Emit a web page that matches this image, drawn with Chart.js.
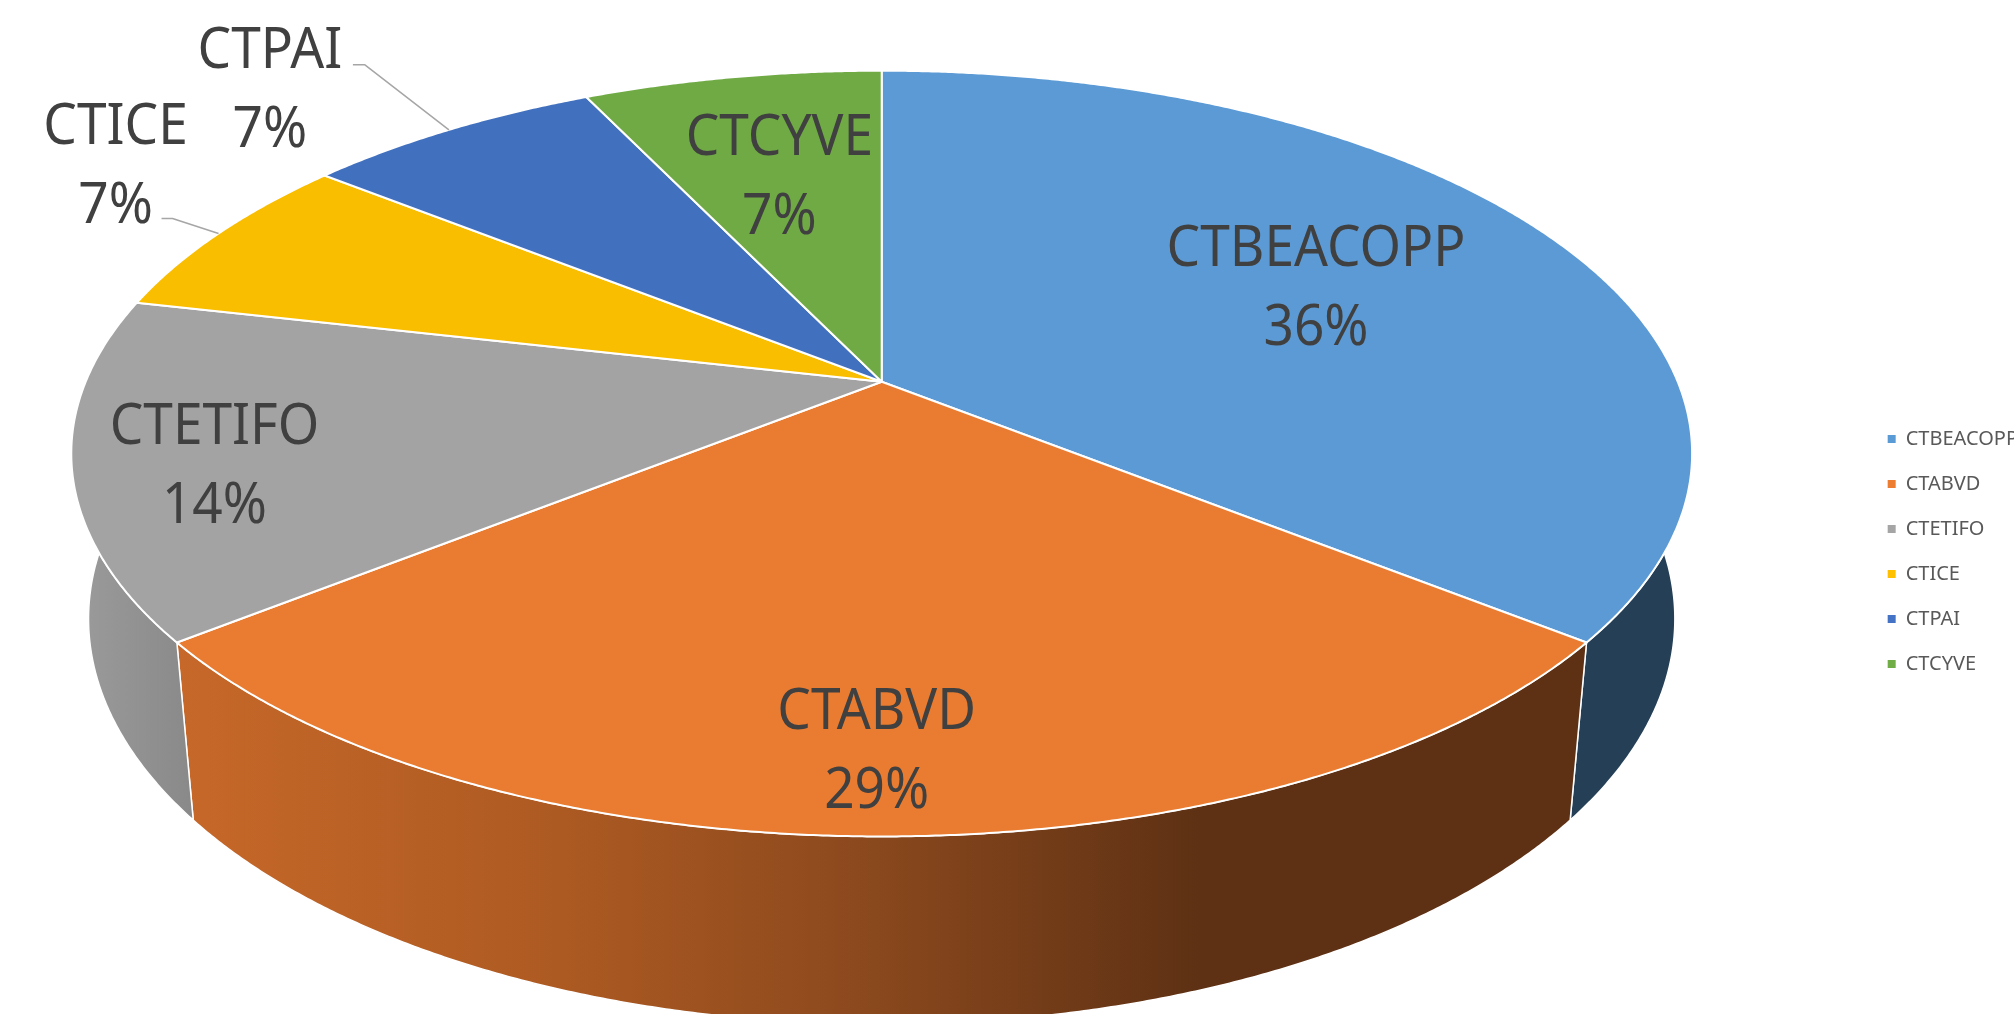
<!DOCTYPE html>
<html>
<head>
<meta charset="utf-8">
<script src="https://cdn.jsdelivr.net/npm/chart.js@4.4.0/dist/chart.umd.min.js"></script>
<style>
	html, body { margin: 0; padding: 0; background: #fff; overflow: hidden; }
	#wrap { position: relative; width: 2028px; height: 1014px; }
</style>
</head>
<body>
<div id="wrap"><canvas id="myChart"></canvas></div>
<script>
// data
const categories = ['CTBEACOPP', 'CTABVD', 'CTETIFO', 'CTICE', 'CTPAI', 'CTCYVE']
const counts = [5, 4, 2, 1, 1, 1]

// colours
const legendColors = ['#5B9BD5', '#ED7D31', '#A5A5A5', '#FFC000', '#4472C4', '#70AD47']
const topColors = ['#5B9AD5', '#E97C30', '#A3A3A3', '#FABE00', '#4170BF', '#6FAA45']

// how the tilted disc is projected on screen
const CX = 881.7
const CY = 381.7
const RX = 796
const RY = 369.4
const TILT = 0.1877 // perspective along the depth of the disc
const PERSP = 0.021 // perspective along the thickness
const DEPTH = 166

// where each data label sits (r = fraction of radius on the slice mid angle)
const labelLayout = [
	{ r: 0.637 },
	{ r: 0.835, dx: -5 },
	{ r: 0.83, dy: 10 },
	{ dx: -103, dy: -71, elbow: [-46, -15], tail: -11 },
	{ dx: -179, dy: -43, elbow: [-84, -65], tail: -12 },
	{ r: 0.646 }
]
const LABEL_SHIFT = 5
const LINE_GAP = 79

function project(theta, r, d) {
	const u = r * Math.cos(theta)
	const v = r * Math.sin(theta)
	const w = 1 - TILT * v + PERSP * d
	return { x: CX + RX * u / w, y: CY + (RY * v + DEPTH * d) / w }
}

function arcPoints(a0, a1, d) {
	const pts = []
	const n = Math.max(2, Math.ceil(Math.abs(a1 - a0) / 0.005))
	for (let i = 0; i <= n; i++) {
		pts.push(project(a0 + (a1 - a0) * i / n, 1, d))
	}
	return pts
}

function sideFill(ctx, i) {
	if (i === 1) {
		const g = ctx.createLinearGradient(180, 0, 1200, 0)
		g.addColorStop(0, '#C66829')
		g.addColorStop(0.37, '#AD5A22')
		g.addColorStop(0.68, '#8A481D')
		g.addColorStop(1, '#5E3114')
		return g
	}
	if (i === 2) {
		const g = ctx.createLinearGradient(70, 0, 200, 0)
		g.addColorStop(0, '#9C9C9C')
		g.addColorStop(1, '#888888')
		return g
	}
	if (i === 0) {
		return '#243F56'
	}
	return '#555555'
}

const pie3d = {
	id: 'pie3d',
	beforeDatasetsDraw(chart) {
		const ctx = chart.ctx
		const arcs = chart.getDatasetMeta(0).data
		const values = chart.data.datasets[0].data
		const total = values.reduce((a, b) => a + b, 0)

		ctx.save()
		ctx.lineJoin = 'round'

		// side walls (front half only, the top covers the rest)
		arcs.forEach((arc, i) => {
			const a0 = Math.max(arc.startAngle, -0.05)
			const a1 = Math.min(arc.endAngle, Math.PI + 0.05)
			if (a1 <= a0) return
			const top = arcPoints(a0, a1, 0)
			const bottom = arcPoints(a1, a0, 1)
			ctx.beginPath()
			top.concat(bottom).forEach((p, j) => j ? ctx.lineTo(p.x, p.y) : ctx.moveTo(p.x, p.y))
			ctx.closePath()
			ctx.fillStyle = sideFill(ctx, i)
			ctx.fill()
			ctx.strokeStyle = '#FFFFFF'
			ctx.lineWidth = 1.5
			ctx.stroke()
		})

		// top faces
		arcs.forEach((arc, i) => {
			const c = project(0, 0, 0)
			ctx.beginPath()
			ctx.moveTo(c.x, c.y)
			arcPoints(arc.startAngle, arc.endAngle, 0).forEach(p => ctx.lineTo(p.x, p.y))
			ctx.closePath()
			ctx.fillStyle = topColors[i]
			ctx.fill()
			ctx.strokeStyle = '#FFFFFF'
			ctx.lineWidth = 2
			ctx.stroke()
		})

		// data labels
		ctx.fillStyle = '#404040'
		ctx.font = '56px "Noto Sans"'
		ctx.textAlign = 'center'
		ctx.textBaseline = 'middle'
		arcs.forEach((arc, i) => {
			const lay = labelLayout[i]
			const mid = (arc.startAngle + arc.endAngle) / 2
			const pct = Math.round(values[i] / total * 100) + '%'
			let pos
			if (lay.r !== undefined) {
				const p = project(mid, lay.r, 0)
				pos = { x: p.x + (lay.dx || 0), y: p.y + (lay.dy || 0) }
			} else {
				const edge = project(mid, 1, 0)
				pos = { x: edge.x + lay.dx, y: edge.y + lay.dy }
				ctx.beginPath()
				ctx.moveTo(edge.x, edge.y)
				ctx.lineTo(edge.x + lay.elbow[0], edge.y + lay.elbow[1])
				ctx.lineTo(edge.x + lay.elbow[0] + lay.tail, edge.y + lay.elbow[1])
				ctx.strokeStyle = '#A6A6A6'
				ctx.lineWidth = 1.5
				ctx.stroke()
			}
			const lines = [categories[i], pct]
			lines.forEach((t, j) => {
				ctx.save()
				ctx.translate(pos.x, pos.y + LABEL_SHIFT + (j - 0.5) * LINE_GAP)
				ctx.scale(0.95, 1)
				ctx.fillText(t, 0, 0)
				ctx.restore()
			})
		})

		ctx.restore()
		return false
	}
}

const chart = new Chart(document.getElementById('myChart'), {
	type: 'pie',
	data: {
		labels: categories,
		datasets: [{
			data: counts,
			backgroundColor: legendColors,
			borderWidth: 0
		}]
	},
	options: {
		responsive: true,
		maintainAspectRatio: false,
		animation: false,
		events: [],
		layout: { padding: { top: 89 } },
		plugins: {
			legend: {
				position: 'right',
				labels: {
					boxWidth: 8,
					boxHeight: 8,
					padding: 25,
					color: '#595959',
					font: { family: 'Noto Sans', size: 20 }
				}
			},
			tooltip: { enabled: false }
		}
	},
	plugins: [pie3d]
})
</script>
</body>
</html>
